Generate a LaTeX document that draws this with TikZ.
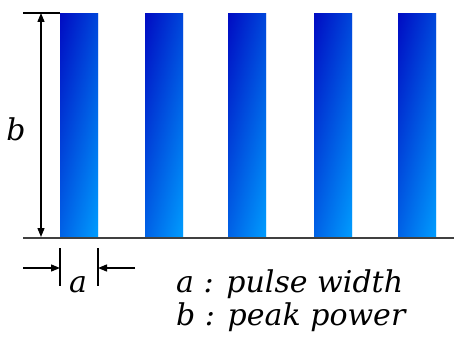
\documentclass[tikz,border=0pt]{standalone}
\usepackage{fontspec}
\setmainfont{DejaVu Serif}
\usetikzlibrary{arrows.meta, positioning}
\definecolor{pulsetop}{RGB}{0,12,195}
\definecolor{pulsebot}{RGB}{0,158,255}
\tikzset{
	pulse/.style={minimum width=38pt, minimum height=225pt, inner sep=0pt, anchor=north west, top color=pulsetop, bottom color=pulsebot,
		path picture={\shade[left color=pulsetop, right color=pulsebot, fill opacity=0.4] (path picture bounding box.south west) rectangle (path picture bounding box.north east);}},
	dimline/.style={line width=1.3pt},
	dimarrow/.style={dimline, -{Triangle[length=9pt,width=7pt]}},
	baseaxis/.style={line width=2.4pt, black!75},
	lbl/.style={font=\itshape\fontsize{30}{34}\selectfont, inner sep=0pt}
}

\begin{document}
\begin{tikzpicture}[x=1pt, y=-1pt]
	\useasboundingbox (0,0) rectangle (454,345);
	
	% --- Pulses ---
	\foreach \x [count=\i] in {60,145,228,314,398}
		\node[pulse] (bar\i) at (\x,13) {};
	
	% --- Axis ---
	\coordinate (axL) at (23,238);
	\coordinate (axR) at (454,238);
	\draw[baseaxis] (axL) -- (axR);
	
	% --- Peak power b ---
	\coordinate (topL) at (23,13);
	\coordinate (btop) at (41,13);
	\coordinate (bbot) at (41,237);
	\draw[dimline] (topL) -- (bar1.north west);
	\draw[dimarrow, {Triangle[length=9pt,width=7pt]}-{Triangle[length=9pt,width=7pt]}] (btop) -- (bbot);
	\node[lbl] (blbl) at (16,129) {b};
	
	% --- Pulse width a ---
	\coordinate (aL1) at (60,248);
	\coordinate (aL2) at (60,286);
	\coordinate (aR1) at (98,248);
	\coordinate (aR2) at (98,286);
	\coordinate (inL) at (23,268);
	\coordinate (inR) at (135,268);
	\draw[dimline] (aL1) -- (aL2);
	\draw[dimline] (aR1) -- (aR2);
	\draw[dimarrow] (inL) -- (aL1 |- inL);
	\draw[dimarrow] (inR) -- (aR1 |- inR);
	\node[lbl, anchor=base] (albl) at (78,292) {a};
	
	% --- Legend ---
	\node[lbl, anchor=base west] (leg1) at (176,292) {a : pulse width};
	\node[lbl, anchor=base west] (leg2) at (176,325) {b : peak power};
\end{tikzpicture}
\end{document}
